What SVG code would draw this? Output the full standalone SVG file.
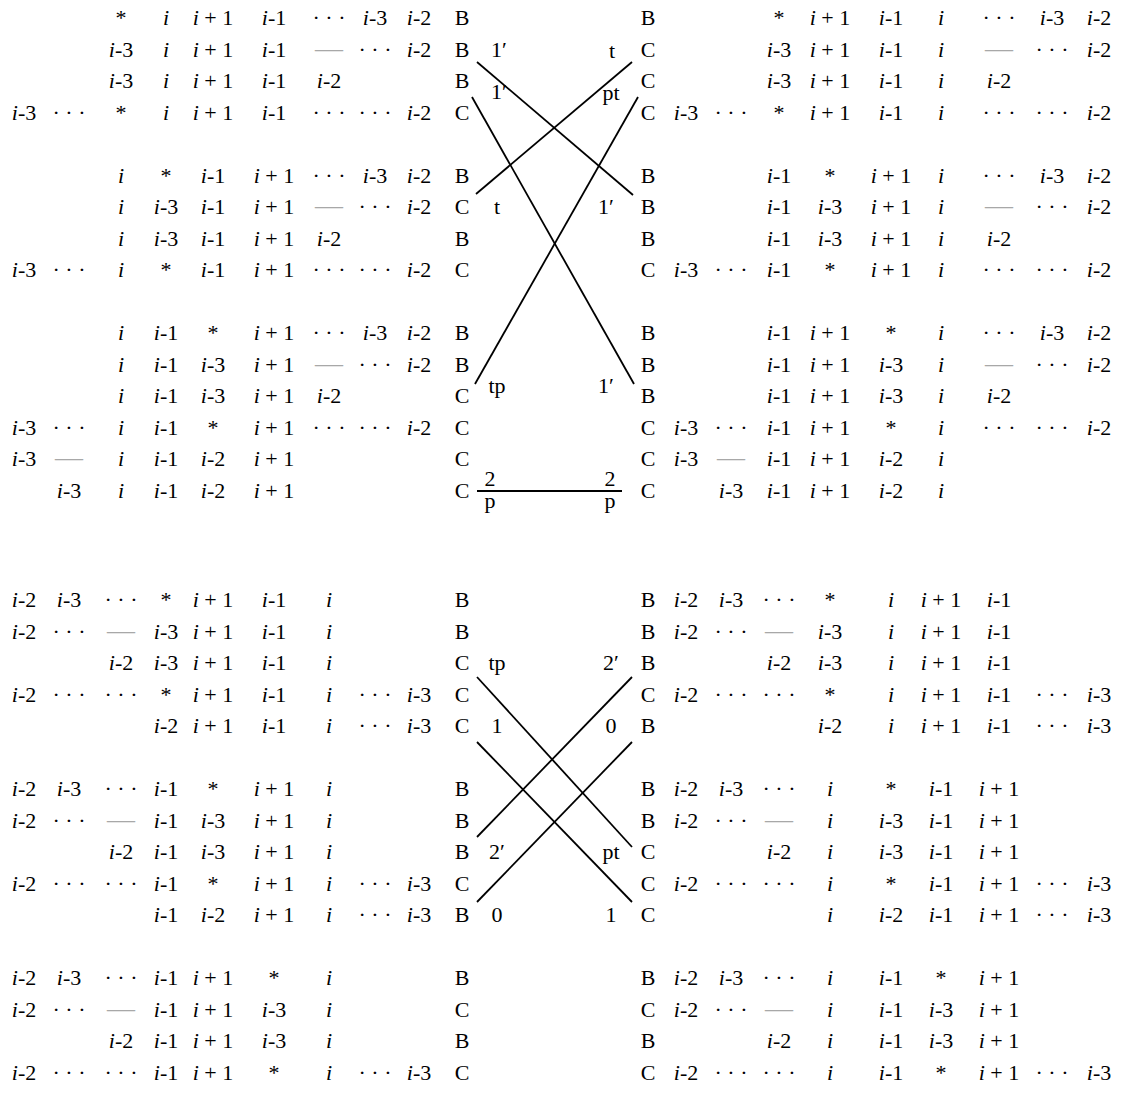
<svg xmlns="http://www.w3.org/2000/svg" width="1126" height="1094" viewBox="0 0 1126 1094">
<style>
.r{font-family:"Liberation Serif",serif;font-size:22px;text-anchor:middle;fill:#000}
.i{font-style:italic}
.g{fill:#a8a8a8;font-size:28px}
.lb{font-family:"Liberation Serif",serif;font-size:22px;text-anchor:middle;fill:#000}
.c{stroke:#000;stroke-width:1.8;fill:none}
</style>
<rect width="1126" height="1094" fill="#fff"/>
<g id="top-left">
<g id="A1"><text class="r" y="25"><tspan x="121">*</tspan><tspan x="166" class="i">i</tspan><tspan x="213"><tspan class="i">i</tspan> + 1</tspan><tspan x="274"><tspan class="i">i</tspan>-1</tspan><tspan x="329">· · ·</tspan><tspan x="375"><tspan class="i">i</tspan>-3</tspan><tspan x="419"><tspan class="i">i</tspan>-2</tspan><tspan x="462">B</tspan></text></g>
<g id="A2"><text class="r" y="56.5"><tspan x="121"><tspan class="i">i</tspan>-3</tspan><tspan x="166" class="i">i</tspan><tspan x="213"><tspan class="i">i</tspan> + 1</tspan><tspan x="274"><tspan class="i">i</tspan>-1</tspan><tspan x="329" class="g">—</tspan><tspan x="375">· · ·</tspan><tspan x="419"><tspan class="i">i</tspan>-2</tspan><tspan x="462">B</tspan></text></g>
<g id="A3"><text class="r" y="88"><tspan x="121"><tspan class="i">i</tspan>-3</tspan><tspan x="166" class="i">i</tspan><tspan x="213"><tspan class="i">i</tspan> + 1</tspan><tspan x="274"><tspan class="i">i</tspan>-1</tspan><tspan x="329"><tspan class="i">i</tspan>-2</tspan><tspan x="462">B</tspan></text></g>
<g id="A4"><text class="r" y="119.5"><tspan x="24"><tspan class="i">i</tspan>-3</tspan><tspan x="69">· · ·</tspan><tspan x="121">*</tspan><tspan x="166" class="i">i</tspan><tspan x="213"><tspan class="i">i</tspan> + 1</tspan><tspan x="274"><tspan class="i">i</tspan>-1</tspan><tspan x="329">· · ·</tspan><tspan x="375">· · ·</tspan><tspan x="419"><tspan class="i">i</tspan>-2</tspan><tspan x="462">C</tspan></text></g>
<g id="B1"><text class="r" y="182.5"><tspan x="121" class="i">i</tspan><tspan x="166">*</tspan><tspan x="213"><tspan class="i">i</tspan>-1</tspan><tspan x="274"><tspan class="i">i</tspan> + 1</tspan><tspan x="329">· · ·</tspan><tspan x="375"><tspan class="i">i</tspan>-3</tspan><tspan x="419"><tspan class="i">i</tspan>-2</tspan><tspan x="462">B</tspan></text></g>
<g id="B2"><text class="r" y="214"><tspan x="121" class="i">i</tspan><tspan x="166"><tspan class="i">i</tspan>-3</tspan><tspan x="213"><tspan class="i">i</tspan>-1</tspan><tspan x="274"><tspan class="i">i</tspan> + 1</tspan><tspan x="329" class="g">—</tspan><tspan x="375">· · ·</tspan><tspan x="419"><tspan class="i">i</tspan>-2</tspan><tspan x="462">C</tspan></text></g>
<g id="B3"><text class="r" y="245.5"><tspan x="121" class="i">i</tspan><tspan x="166"><tspan class="i">i</tspan>-3</tspan><tspan x="213"><tspan class="i">i</tspan>-1</tspan><tspan x="274"><tspan class="i">i</tspan> + 1</tspan><tspan x="329"><tspan class="i">i</tspan>-2</tspan><tspan x="462">B</tspan></text></g>
<g id="B4"><text class="r" y="277"><tspan x="24"><tspan class="i">i</tspan>-3</tspan><tspan x="69">· · ·</tspan><tspan x="121" class="i">i</tspan><tspan x="166">*</tspan><tspan x="213"><tspan class="i">i</tspan>-1</tspan><tspan x="274"><tspan class="i">i</tspan> + 1</tspan><tspan x="329">· · ·</tspan><tspan x="375">· · ·</tspan><tspan x="419"><tspan class="i">i</tspan>-2</tspan><tspan x="462">C</tspan></text></g>
<g id="C1"><text class="r" y="340"><tspan x="121" class="i">i</tspan><tspan x="166"><tspan class="i">i</tspan>-1</tspan><tspan x="213">*</tspan><tspan x="274"><tspan class="i">i</tspan> + 1</tspan><tspan x="329">· · ·</tspan><tspan x="375"><tspan class="i">i</tspan>-3</tspan><tspan x="419"><tspan class="i">i</tspan>-2</tspan><tspan x="462">B</tspan></text></g>
<g id="C2"><text class="r" y="371.5"><tspan x="121" class="i">i</tspan><tspan x="166"><tspan class="i">i</tspan>-1</tspan><tspan x="213"><tspan class="i">i</tspan>-3</tspan><tspan x="274"><tspan class="i">i</tspan> + 1</tspan><tspan x="329" class="g">—</tspan><tspan x="375">· · ·</tspan><tspan x="419"><tspan class="i">i</tspan>-2</tspan><tspan x="462">B</tspan></text></g>
<g id="C3"><text class="r" y="403"><tspan x="121" class="i">i</tspan><tspan x="166"><tspan class="i">i</tspan>-1</tspan><tspan x="213"><tspan class="i">i</tspan>-3</tspan><tspan x="274"><tspan class="i">i</tspan> + 1</tspan><tspan x="329"><tspan class="i">i</tspan>-2</tspan><tspan x="462">C</tspan></text></g>
<g id="C4"><text class="r" y="434.5"><tspan x="24"><tspan class="i">i</tspan>-3</tspan><tspan x="69">· · ·</tspan><tspan x="121" class="i">i</tspan><tspan x="166"><tspan class="i">i</tspan>-1</tspan><tspan x="213">*</tspan><tspan x="274"><tspan class="i">i</tspan> + 1</tspan><tspan x="329">· · ·</tspan><tspan x="375">· · ·</tspan><tspan x="419"><tspan class="i">i</tspan>-2</tspan><tspan x="462">C</tspan></text></g>
<g id="C5"><text class="r" y="466"><tspan x="24"><tspan class="i">i</tspan>-3</tspan><tspan x="69" class="g">—</tspan><tspan x="121" class="i">i</tspan><tspan x="166"><tspan class="i">i</tspan>-1</tspan><tspan x="213"><tspan class="i">i</tspan>-2</tspan><tspan x="274"><tspan class="i">i</tspan> + 1</tspan><tspan x="462">C</tspan></text></g>
<g id="C6"><text class="r" y="497.5"><tspan x="69"><tspan class="i">i</tspan>-3</tspan><tspan x="121" class="i">i</tspan><tspan x="166"><tspan class="i">i</tspan>-1</tspan><tspan x="213"><tspan class="i">i</tspan>-2</tspan><tspan x="274"><tspan class="i">i</tspan> + 1</tspan><tspan x="462">C</tspan></text></g>
</g>
<g id="top-right">
<g id="A1r"><text class="r" y="25"><tspan x="648">B</tspan><tspan x="779">*</tspan><tspan x="830"><tspan class="i">i</tspan> + 1</tspan><tspan x="891"><tspan class="i">i</tspan>-1</tspan><tspan x="941" class="i">i</tspan><tspan x="999">· · ·</tspan><tspan x="1052"><tspan class="i">i</tspan>-3</tspan><tspan x="1099"><tspan class="i">i</tspan>-2</tspan></text></g>
<g id="A2r"><text class="r" y="56.5"><tspan x="648">C</tspan><tspan x="779"><tspan class="i">i</tspan>-3</tspan><tspan x="830"><tspan class="i">i</tspan> + 1</tspan><tspan x="891"><tspan class="i">i</tspan>-1</tspan><tspan x="941" class="i">i</tspan><tspan x="999" class="g">—</tspan><tspan x="1052">· · ·</tspan><tspan x="1099"><tspan class="i">i</tspan>-2</tspan></text></g>
<g id="A3r"><text class="r" y="88"><tspan x="648">C</tspan><tspan x="779"><tspan class="i">i</tspan>-3</tspan><tspan x="830"><tspan class="i">i</tspan> + 1</tspan><tspan x="891"><tspan class="i">i</tspan>-1</tspan><tspan x="941" class="i">i</tspan><tspan x="999"><tspan class="i">i</tspan>-2</tspan></text></g>
<g id="A4r"><text class="r" y="119.5"><tspan x="648">C</tspan><tspan x="686"><tspan class="i">i</tspan>-3</tspan><tspan x="731">· · ·</tspan><tspan x="779">*</tspan><tspan x="830"><tspan class="i">i</tspan> + 1</tspan><tspan x="891"><tspan class="i">i</tspan>-1</tspan><tspan x="941" class="i">i</tspan><tspan x="999">· · ·</tspan><tspan x="1052">· · ·</tspan><tspan x="1099"><tspan class="i">i</tspan>-2</tspan></text></g>
<g id="B1r"><text class="r" y="182.5"><tspan x="648">B</tspan><tspan x="779"><tspan class="i">i</tspan>-1</tspan><tspan x="830">*</tspan><tspan x="891"><tspan class="i">i</tspan> + 1</tspan><tspan x="941" class="i">i</tspan><tspan x="999">· · ·</tspan><tspan x="1052"><tspan class="i">i</tspan>-3</tspan><tspan x="1099"><tspan class="i">i</tspan>-2</tspan></text></g>
<g id="B2r"><text class="r" y="214"><tspan x="648">B</tspan><tspan x="779"><tspan class="i">i</tspan>-1</tspan><tspan x="830"><tspan class="i">i</tspan>-3</tspan><tspan x="891"><tspan class="i">i</tspan> + 1</tspan><tspan x="941" class="i">i</tspan><tspan x="999" class="g">—</tspan><tspan x="1052">· · ·</tspan><tspan x="1099"><tspan class="i">i</tspan>-2</tspan></text></g>
<g id="B3r"><text class="r" y="245.5"><tspan x="648">B</tspan><tspan x="779"><tspan class="i">i</tspan>-1</tspan><tspan x="830"><tspan class="i">i</tspan>-3</tspan><tspan x="891"><tspan class="i">i</tspan> + 1</tspan><tspan x="941" class="i">i</tspan><tspan x="999"><tspan class="i">i</tspan>-2</tspan></text></g>
<g id="B4r"><text class="r" y="277"><tspan x="648">C</tspan><tspan x="686"><tspan class="i">i</tspan>-3</tspan><tspan x="731">· · ·</tspan><tspan x="779"><tspan class="i">i</tspan>-1</tspan><tspan x="830">*</tspan><tspan x="891"><tspan class="i">i</tspan> + 1</tspan><tspan x="941" class="i">i</tspan><tspan x="999">· · ·</tspan><tspan x="1052">· · ·</tspan><tspan x="1099"><tspan class="i">i</tspan>-2</tspan></text></g>
<g id="C1r"><text class="r" y="340"><tspan x="648">B</tspan><tspan x="779"><tspan class="i">i</tspan>-1</tspan><tspan x="830"><tspan class="i">i</tspan> + 1</tspan><tspan x="891">*</tspan><tspan x="941" class="i">i</tspan><tspan x="999">· · ·</tspan><tspan x="1052"><tspan class="i">i</tspan>-3</tspan><tspan x="1099"><tspan class="i">i</tspan>-2</tspan></text></g>
<g id="C2r"><text class="r" y="371.5"><tspan x="648">B</tspan><tspan x="779"><tspan class="i">i</tspan>-1</tspan><tspan x="830"><tspan class="i">i</tspan> + 1</tspan><tspan x="891"><tspan class="i">i</tspan>-3</tspan><tspan x="941" class="i">i</tspan><tspan x="999" class="g">—</tspan><tspan x="1052">· · ·</tspan><tspan x="1099"><tspan class="i">i</tspan>-2</tspan></text></g>
<g id="C3r"><text class="r" y="403"><tspan x="648">B</tspan><tspan x="779"><tspan class="i">i</tspan>-1</tspan><tspan x="830"><tspan class="i">i</tspan> + 1</tspan><tspan x="891"><tspan class="i">i</tspan>-3</tspan><tspan x="941" class="i">i</tspan><tspan x="999"><tspan class="i">i</tspan>-2</tspan></text></g>
<g id="C4r"><text class="r" y="434.5"><tspan x="648">C</tspan><tspan x="686"><tspan class="i">i</tspan>-3</tspan><tspan x="731">· · ·</tspan><tspan x="779"><tspan class="i">i</tspan>-1</tspan><tspan x="830"><tspan class="i">i</tspan> + 1</tspan><tspan x="891">*</tspan><tspan x="941" class="i">i</tspan><tspan x="999">· · ·</tspan><tspan x="1052">· · ·</tspan><tspan x="1099"><tspan class="i">i</tspan>-2</tspan></text></g>
<g id="C5r"><text class="r" y="466"><tspan x="648">C</tspan><tspan x="686"><tspan class="i">i</tspan>-3</tspan><tspan x="731" class="g">—</tspan><tspan x="779"><tspan class="i">i</tspan>-1</tspan><tspan x="830"><tspan class="i">i</tspan> + 1</tspan><tspan x="891"><tspan class="i">i</tspan>-2</tspan><tspan x="941" class="i">i</tspan></text></g>
<g id="C6r"><text class="r" y="497.5"><tspan x="648">C</tspan><tspan x="731"><tspan class="i">i</tspan>-3</tspan><tspan x="779"><tspan class="i">i</tspan>-1</tspan><tspan x="830"><tspan class="i">i</tspan> + 1</tspan><tspan x="891"><tspan class="i">i</tspan>-2</tspan><tspan x="941" class="i">i</tspan></text></g>
</g>
<g id="bottom-left">
<g id="D1"><text class="r" y="607"><tspan x="24"><tspan class="i">i</tspan>-2</tspan><tspan x="69"><tspan class="i">i</tspan>-3</tspan><tspan x="121">· · ·</tspan><tspan x="166">*</tspan><tspan x="213"><tspan class="i">i</tspan> + 1</tspan><tspan x="274"><tspan class="i">i</tspan>-1</tspan><tspan x="329" class="i">i</tspan><tspan x="462">B</tspan></text></g>
<g id="D2"><text class="r" y="638.5"><tspan x="24"><tspan class="i">i</tspan>-2</tspan><tspan x="69">· · ·</tspan><tspan x="121" class="g">—</tspan><tspan x="166"><tspan class="i">i</tspan>-3</tspan><tspan x="213"><tspan class="i">i</tspan> + 1</tspan><tspan x="274"><tspan class="i">i</tspan>-1</tspan><tspan x="329" class="i">i</tspan><tspan x="462">B</tspan></text></g>
<g id="D3"><text class="r" y="670"><tspan x="121"><tspan class="i">i</tspan>-2</tspan><tspan x="166"><tspan class="i">i</tspan>-3</tspan><tspan x="213"><tspan class="i">i</tspan> + 1</tspan><tspan x="274"><tspan class="i">i</tspan>-1</tspan><tspan x="329" class="i">i</tspan><tspan x="462">C</tspan></text></g>
<g id="D4"><text class="r" y="701.5"><tspan x="24"><tspan class="i">i</tspan>-2</tspan><tspan x="69">· · ·</tspan><tspan x="121">· · ·</tspan><tspan x="166">*</tspan><tspan x="213"><tspan class="i">i</tspan> + 1</tspan><tspan x="274"><tspan class="i">i</tspan>-1</tspan><tspan x="329" class="i">i</tspan><tspan x="375">· · ·</tspan><tspan x="419"><tspan class="i">i</tspan>-3</tspan><tspan x="462">C</tspan></text></g>
<g id="D5"><text class="r" y="733"><tspan x="166"><tspan class="i">i</tspan>-2</tspan><tspan x="213"><tspan class="i">i</tspan> + 1</tspan><tspan x="274"><tspan class="i">i</tspan>-1</tspan><tspan x="329" class="i">i</tspan><tspan x="375">· · ·</tspan><tspan x="419"><tspan class="i">i</tspan>-3</tspan><tspan x="462">C</tspan></text></g>
<g id="E1"><text class="r" y="796"><tspan x="24"><tspan class="i">i</tspan>-2</tspan><tspan x="69"><tspan class="i">i</tspan>-3</tspan><tspan x="121">· · ·</tspan><tspan x="166"><tspan class="i">i</tspan>-1</tspan><tspan x="213">*</tspan><tspan x="274"><tspan class="i">i</tspan> + 1</tspan><tspan x="329" class="i">i</tspan><tspan x="462">B</tspan></text></g>
<g id="E2"><text class="r" y="827.5"><tspan x="24"><tspan class="i">i</tspan>-2</tspan><tspan x="69">· · ·</tspan><tspan x="121" class="g">—</tspan><tspan x="166"><tspan class="i">i</tspan>-1</tspan><tspan x="213"><tspan class="i">i</tspan>-3</tspan><tspan x="274"><tspan class="i">i</tspan> + 1</tspan><tspan x="329" class="i">i</tspan><tspan x="462">B</tspan></text></g>
<g id="E3"><text class="r" y="859"><tspan x="121"><tspan class="i">i</tspan>-2</tspan><tspan x="166"><tspan class="i">i</tspan>-1</tspan><tspan x="213"><tspan class="i">i</tspan>-3</tspan><tspan x="274"><tspan class="i">i</tspan> + 1</tspan><tspan x="329" class="i">i</tspan><tspan x="462">B</tspan></text></g>
<g id="E4"><text class="r" y="890.5"><tspan x="24"><tspan class="i">i</tspan>-2</tspan><tspan x="69">· · ·</tspan><tspan x="121">· · ·</tspan><tspan x="166"><tspan class="i">i</tspan>-1</tspan><tspan x="213">*</tspan><tspan x="274"><tspan class="i">i</tspan> + 1</tspan><tspan x="329" class="i">i</tspan><tspan x="375">· · ·</tspan><tspan x="419"><tspan class="i">i</tspan>-3</tspan><tspan x="462">C</tspan></text></g>
<g id="E5"><text class="r" y="922"><tspan x="166"><tspan class="i">i</tspan>-1</tspan><tspan x="213"><tspan class="i">i</tspan>-2</tspan><tspan x="274"><tspan class="i">i</tspan> + 1</tspan><tspan x="329" class="i">i</tspan><tspan x="375">· · ·</tspan><tspan x="419"><tspan class="i">i</tspan>-3</tspan><tspan x="462">B</tspan></text></g>
<g id="F1"><text class="r" y="985"><tspan x="24"><tspan class="i">i</tspan>-2</tspan><tspan x="69"><tspan class="i">i</tspan>-3</tspan><tspan x="121">· · ·</tspan><tspan x="166"><tspan class="i">i</tspan>-1</tspan><tspan x="213"><tspan class="i">i</tspan> + 1</tspan><tspan x="274">*</tspan><tspan x="329" class="i">i</tspan><tspan x="462">B</tspan></text></g>
<g id="F2"><text class="r" y="1016.5"><tspan x="24"><tspan class="i">i</tspan>-2</tspan><tspan x="69">· · ·</tspan><tspan x="121" class="g">—</tspan><tspan x="166"><tspan class="i">i</tspan>-1</tspan><tspan x="213"><tspan class="i">i</tspan> + 1</tspan><tspan x="274"><tspan class="i">i</tspan>-3</tspan><tspan x="329" class="i">i</tspan><tspan x="462">C</tspan></text></g>
<g id="F3"><text class="r" y="1048"><tspan x="121"><tspan class="i">i</tspan>-2</tspan><tspan x="166"><tspan class="i">i</tspan>-1</tspan><tspan x="213"><tspan class="i">i</tspan> + 1</tspan><tspan x="274"><tspan class="i">i</tspan>-3</tspan><tspan x="329" class="i">i</tspan><tspan x="462">B</tspan></text></g>
<g id="F4"><text class="r" y="1079.5"><tspan x="24"><tspan class="i">i</tspan>-2</tspan><tspan x="69">· · ·</tspan><tspan x="121">· · ·</tspan><tspan x="166"><tspan class="i">i</tspan>-1</tspan><tspan x="213"><tspan class="i">i</tspan> + 1</tspan><tspan x="274">*</tspan><tspan x="329" class="i">i</tspan><tspan x="375">· · ·</tspan><tspan x="419"><tspan class="i">i</tspan>-3</tspan><tspan x="462">C</tspan></text></g>
</g>
<g id="bottom-right">
<g id="D1r"><text class="r" y="607"><tspan x="648">B</tspan><tspan x="686"><tspan class="i">i</tspan>-2</tspan><tspan x="731"><tspan class="i">i</tspan>-3</tspan><tspan x="779">· · ·</tspan><tspan x="830">*</tspan><tspan x="891" class="i">i</tspan><tspan x="941"><tspan class="i">i</tspan> + 1</tspan><tspan x="999"><tspan class="i">i</tspan>-1</tspan></text></g>
<g id="D2r"><text class="r" y="638.5"><tspan x="648">B</tspan><tspan x="686"><tspan class="i">i</tspan>-2</tspan><tspan x="731">· · ·</tspan><tspan x="779" class="g">—</tspan><tspan x="830"><tspan class="i">i</tspan>-3</tspan><tspan x="891" class="i">i</tspan><tspan x="941"><tspan class="i">i</tspan> + 1</tspan><tspan x="999"><tspan class="i">i</tspan>-1</tspan></text></g>
<g id="D3r"><text class="r" y="670"><tspan x="648">B</tspan><tspan x="779"><tspan class="i">i</tspan>-2</tspan><tspan x="830"><tspan class="i">i</tspan>-3</tspan><tspan x="891" class="i">i</tspan><tspan x="941"><tspan class="i">i</tspan> + 1</tspan><tspan x="999"><tspan class="i">i</tspan>-1</tspan></text></g>
<g id="D4r"><text class="r" y="701.5"><tspan x="648">C</tspan><tspan x="686"><tspan class="i">i</tspan>-2</tspan><tspan x="731">· · ·</tspan><tspan x="779">· · ·</tspan><tspan x="830">*</tspan><tspan x="891" class="i">i</tspan><tspan x="941"><tspan class="i">i</tspan> + 1</tspan><tspan x="999"><tspan class="i">i</tspan>-1</tspan><tspan x="1052">· · ·</tspan><tspan x="1099"><tspan class="i">i</tspan>-3</tspan></text></g>
<g id="D5r"><text class="r" y="733"><tspan x="648">B</tspan><tspan x="830"><tspan class="i">i</tspan>-2</tspan><tspan x="891" class="i">i</tspan><tspan x="941"><tspan class="i">i</tspan> + 1</tspan><tspan x="999"><tspan class="i">i</tspan>-1</tspan><tspan x="1052">· · ·</tspan><tspan x="1099"><tspan class="i">i</tspan>-3</tspan></text></g>
<g id="E1r"><text class="r" y="796"><tspan x="648">B</tspan><tspan x="686"><tspan class="i">i</tspan>-2</tspan><tspan x="731"><tspan class="i">i</tspan>-3</tspan><tspan x="779">· · ·</tspan><tspan x="830" class="i">i</tspan><tspan x="891">*</tspan><tspan x="941"><tspan class="i">i</tspan>-1</tspan><tspan x="999"><tspan class="i">i</tspan> + 1</tspan></text></g>
<g id="E2r"><text class="r" y="827.5"><tspan x="648">B</tspan><tspan x="686"><tspan class="i">i</tspan>-2</tspan><tspan x="731">· · ·</tspan><tspan x="779" class="g">—</tspan><tspan x="830" class="i">i</tspan><tspan x="891"><tspan class="i">i</tspan>-3</tspan><tspan x="941"><tspan class="i">i</tspan>-1</tspan><tspan x="999"><tspan class="i">i</tspan> + 1</tspan></text></g>
<g id="E3r"><text class="r" y="859"><tspan x="648">C</tspan><tspan x="779"><tspan class="i">i</tspan>-2</tspan><tspan x="830" class="i">i</tspan><tspan x="891"><tspan class="i">i</tspan>-3</tspan><tspan x="941"><tspan class="i">i</tspan>-1</tspan><tspan x="999"><tspan class="i">i</tspan> + 1</tspan></text></g>
<g id="E4r"><text class="r" y="890.5"><tspan x="648">C</tspan><tspan x="686"><tspan class="i">i</tspan>-2</tspan><tspan x="731">· · ·</tspan><tspan x="779">· · ·</tspan><tspan x="830" class="i">i</tspan><tspan x="891">*</tspan><tspan x="941"><tspan class="i">i</tspan>-1</tspan><tspan x="999"><tspan class="i">i</tspan> + 1</tspan><tspan x="1052">· · ·</tspan><tspan x="1099"><tspan class="i">i</tspan>-3</tspan></text></g>
<g id="E5r"><text class="r" y="922"><tspan x="648">C</tspan><tspan x="830" class="i">i</tspan><tspan x="891"><tspan class="i">i</tspan>-2</tspan><tspan x="941"><tspan class="i">i</tspan>-1</tspan><tspan x="999"><tspan class="i">i</tspan> + 1</tspan><tspan x="1052">· · ·</tspan><tspan x="1099"><tspan class="i">i</tspan>-3</tspan></text></g>
<g id="F1r"><text class="r" y="985"><tspan x="648">B</tspan><tspan x="686"><tspan class="i">i</tspan>-2</tspan><tspan x="731"><tspan class="i">i</tspan>-3</tspan><tspan x="779">· · ·</tspan><tspan x="830" class="i">i</tspan><tspan x="891"><tspan class="i">i</tspan>-1</tspan><tspan x="941">*</tspan><tspan x="999"><tspan class="i">i</tspan> + 1</tspan></text></g>
<g id="F2r"><text class="r" y="1016.5"><tspan x="648">C</tspan><tspan x="686"><tspan class="i">i</tspan>-2</tspan><tspan x="731">· · ·</tspan><tspan x="779" class="g">—</tspan><tspan x="830" class="i">i</tspan><tspan x="891"><tspan class="i">i</tspan>-1</tspan><tspan x="941"><tspan class="i">i</tspan>-3</tspan><tspan x="999"><tspan class="i">i</tspan> + 1</tspan></text></g>
<g id="F3r"><text class="r" y="1048"><tspan x="648">B</tspan><tspan x="779"><tspan class="i">i</tspan>-2</tspan><tspan x="830" class="i">i</tspan><tspan x="891"><tspan class="i">i</tspan>-1</tspan><tspan x="941"><tspan class="i">i</tspan>-3</tspan><tspan x="999"><tspan class="i">i</tspan> + 1</tspan></text></g>
<g id="F4r"><text class="r" y="1079.5"><tspan x="648">C</tspan><tspan x="686"><tspan class="i">i</tspan>-2</tspan><tspan x="731">· · ·</tspan><tspan x="779">· · ·</tspan><tspan x="830" class="i">i</tspan><tspan x="891"><tspan class="i">i</tspan>-1</tspan><tspan x="941">*</tspan><tspan x="999"><tspan class="i">i</tspan> + 1</tspan><tspan x="1052">· · ·</tspan><tspan x="1099"><tspan class="i">i</tspan>-3</tspan></text></g>
</g>
<g id="connectors">
<line class="c" x1="477" y1="62" x2="633" y2="195"/>
<line class="c" x1="632" y1="62" x2="476" y2="194"/>
<line class="c" x1="472" y1="97" x2="634" y2="384"/>
<line class="c" x1="638" y1="97" x2="475" y2="384"/>
<line class="c" x1="477" y1="491" x2="622" y2="491"/>
<line class="c" x1="477" y1="677" x2="632" y2="847"/>
<line class="c" x1="477" y1="742" x2="632" y2="902"/>
<line class="c" x1="632" y1="677" x2="477" y2="837"/>
<line class="c" x1="632" y1="742" x2="477" y2="902"/>
</g>
<g id="connector-labels">
<text class="lb" x="499" y="57">1′</text>
<text class="lb" x="612" y="58">t</text>
<text class="lb" x="499" y="99">1′</text>
<text class="lb" x="611" y="100">pt</text>
<text class="lb" x="497" y="214">t</text>
<text class="lb" x="606" y="214">1′</text>
<text class="lb" x="497" y="393">tp</text>
<text class="lb" x="606" y="393">1′</text>
<text class="lb" x="490" y="486">2</text>
<text class="lb" x="490" y="508">p</text>
<text class="lb" x="610" y="486">2</text>
<text class="lb" x="610" y="508">p</text>
<text class="lb" x="497" y="670">tp</text>
<text class="lb" x="611" y="670">2′</text>
<text class="lb" x="497" y="733">1</text>
<text class="lb" x="611" y="733">0</text>
<text class="lb" x="497" y="859">2′</text>
<text class="lb" x="611" y="859">pt</text>
<text class="lb" x="497" y="922">0</text>
<text class="lb" x="611" y="922">1</text>
</g>
</svg>
